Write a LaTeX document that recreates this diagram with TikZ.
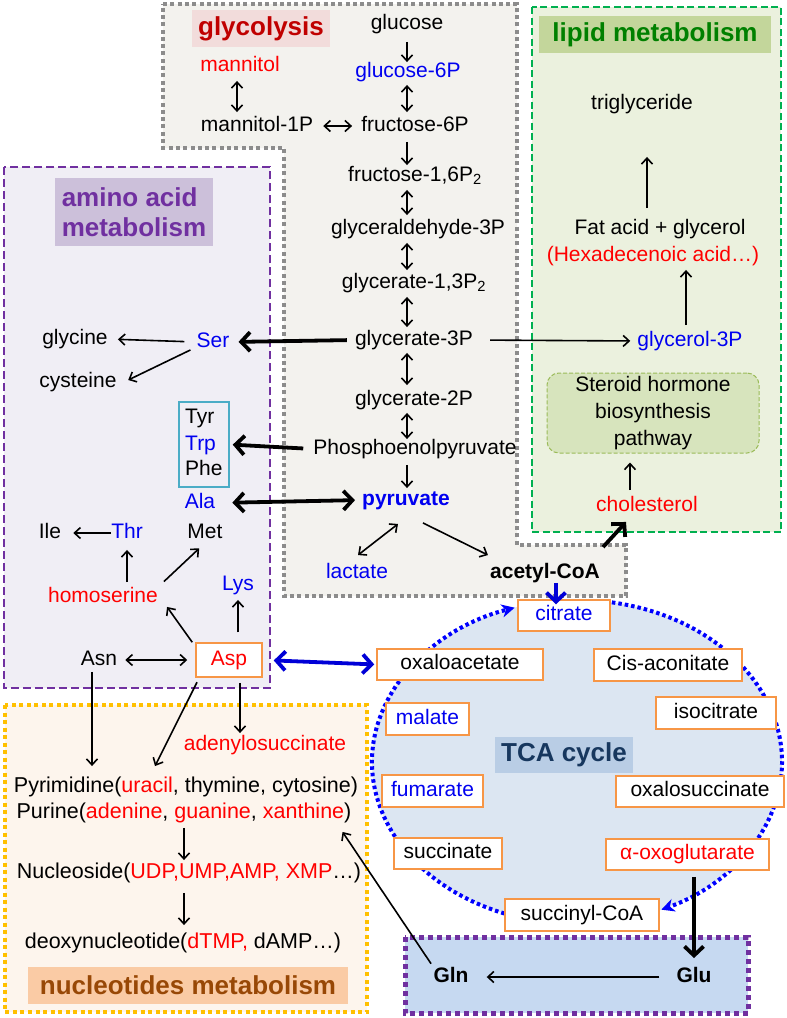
\documentclass[tikz,border=0pt]{standalone}
\usepackage{fontspec}
\setmainfont{Liberation Sans}
\usetikzlibrary{arrows.meta}
\definecolor{cblue}{RGB}{0,0,240}
\definecolor{tblue}{RGB}{0,0,215}
\definecolor{cred}{RGB}{255,0,0}
\definecolor{graybd}{RGB}{140,140,140}
\definecolor{grayfill}{RGB}{243,242,238}
\definecolor{greenbd}{RGB}{0,176,80}
\definecolor{greenfill}{RGB}{235,241,222}
\definecolor{purplebd}{RGB}{112,48,160}
\definecolor{purplefill}{RGB}{240,238,245}
\definecolor{aminolab}{RGB}{204,192,218}
\definecolor{nucbd}{RGB}{255,192,0}
\definecolor{nucfill}{RGB}{253,245,237}
\definecolor{nuclab}{RGB}{250,203,165}
\definecolor{nuctext}{RGB}{152,72,6}
\definecolor{tcafill}{RGB}{220,230,242}
\definecolor{tcalab}{RGB}{185,205,229}
\definecolor{tcatext}{RGB}{23,55,94}
\definecolor{glufill}{RGB}{198,217,241}
\definecolor{sterfill}{RGB}{215,228,189}
\definecolor{sterbd}{RGB}{155,187,89}
\definecolor{liplab}{RGB}{195,214,155}
\definecolor{liptext}{RGB}{0,128,0}
\definecolor{glylab}{RGB}{242,220,219}
\definecolor{glytext}{RGB}{192,0,0}
\definecolor{arobd}{RGB}{75,172,198}
\definecolor{obd}{RGB}{247,150,70}
\newcommand{\myfs}{\fontsize{21}{25}\selectfont}
\newcommand{\mynfs}{\fontsize{21.5}{25}\selectfont}
\newcommand{\mytitle}{\fontsize{26}{30}\selectfont\bfseries}
\tikzset{
  txt/.style={inner sep=0pt, text height=15pt, text depth=4.5pt, font=\myfs},
  txtb/.style={txt, text=cblue},
  txtr/.style={txt, text=cred},
  txtbb/.style={txt, text=cblue, font=\myfs\bfseries},
  txtkb/.style={txt, font=\myfs\bfseries},
  txtn/.style={txt, font=\mynfs},
  obox/.style={draw=obd, line width=1.5pt, fill=white, inner sep=0pt, text height=15pt, text depth=4.5pt, font=\myfs},
  lab/.style={inner sep=0pt, font=\mytitle},
  arr/.style={line width=1.6pt, -{Straight Barb[length=6pt,width=11pt]}},
  darr/.style={line width=1.6pt, {Straight Barb[length=6pt,width=11pt]}-{Straight Barb[length=6pt,width=11pt]}},
  tarr/.style={line width=3.8pt, -{Straight Barb[length=9pt,width=19pt]}},
  tdarr/.style={line width=3.8pt, {Straight Barb[length=9pt,width=19pt]}-{Straight Barb[length=9pt,width=19pt]}},
  tcaline/.style={draw=blue, line width=4pt, dash pattern=on 3.5pt off 3pt, -{Stealth[length=13pt,width=13pt,inset=4pt]}},
}
\begin{document}
\begin{tikzpicture}[x=1pt,y=1pt]
\useasboundingbox (0,0) rectangle (787,-1018);
% ---------- backgrounds ----------
\filldraw[fill=grayfill, draw=graybd, line width=4pt, dash pattern=on 4pt off 3.3pt]
  (163,-4) -- (517,-4) -- (517,-545) -- (626,-545) -- (626,-596) -- (284,-596) -- (284,-148) -- (163,-148) -- cycle;
\filldraw[fill=greenfill, draw=greenbd, line width=2.5pt, dash pattern=on 7pt off 3.5pt] (532,-7) rectangle (781,-532);
\filldraw[fill=purplefill, draw=purplebd, line width=2.5pt, dash pattern=on 8pt off 4pt] (4,-167) rectangle (270,-688);
\filldraw[fill=nucfill, draw=nucbd, line width=3.5pt, dash pattern=on 4pt off 3.5pt] (5,-705) rectangle (367,-1012);
\coordinate (tcac) at (577,-762);
\fill[tcafill] (tcac) ellipse [x radius=205, y radius=162];
\filldraw[fill=glufill, draw=purplebd, line width=5pt, dash pattern=on 5pt off 4pt] (405,-937) rectangle (748,-1013);
% ---------- labels ----------
\node[lab, fill=glylab, minimum width=138pt, minimum height=37pt, text=glytext] (lglyc) at (261,-28.5) {glycolysis};
\node[lab, fill=liplab, minimum width=232pt, minimum height=37pt, text=liptext] (llip) at (655,-34.5) {lipid metabolism};
\node[lab, fill=aminolab, minimum width=158pt, minimum height=68pt, align=left, text=purplebd] (lamino) at (134,-212) {amino acid\\metabolism};
\node[lab, fill=tcalab, minimum width=138pt, minimum height=36pt, text=tcatext] (ltca) at (564,-755) {TCA cycle};
\node[lab, fill=nuclab, minimum width=320pt, minimum height=37pt, text=nuctext] (lnuc) at (188,-985.5) {nucleotides metabolism};
% ---------- TCA circle ----------
\draw[tcaline] ([shift={(249.3:205 and 162)}]tcac) arc[start angle=249.3, end angle=107.7, x radius=205, y radius=162];
\draw[tcaline] ([shift={(80.2:205 and 162)}]tcac) arc[start angle=80.2, end angle=-65.7, x radius=205, y radius=162];
% ---------- glycolysis ----------
\coordinate (col) at (407,0);
\coordinate (mcol) at (237,0);
\node[txt] (glucose) at (407,-24) {glucose};
\node[txtb] (gsixp) at (408,-72) {glucose-6P};
\node[txtr] (mannitol) at (240,-66) {mannitol};
\node[txt] (mannp) at (257,-126) {mannitol-1P};
\node[txt] (fsixp) at (415,-126) {fructose-6P};
\node[txt] (fbp) at (415,-176) {fructose-1,6P\textsubscript{2}};
\node[txt] (gald) at (418,-229) {glyceraldehyde-3P};
\node[txt] (gbp) at (414,-283) {glycerate-1,3P\textsubscript{2}};
\node[txt] (gthree) at (414,-340) {glycerate-3P};
\node[txt] (gtwo) at (414,-400) {glycerate-2P};
\node[txt] (pep) at (415,-449) {Phosphoenolpyruvate};
\node[txtbb] (pyr) at (406,-500) {pyruvate};
\node[txtb] (lac) at (357,-573) {lactate};
\node[txtkb] (acoa) at (545,-573) {acetyl-CoA};
% ---------- amino acids ----------
\node[txtb] (ser) at (213,-342) {Ser};
\node[txt] (gly) at (75,-339) {glycine};
\node[txt] (cys) at (78,-382) {cysteine};
\node[draw=arobd, line width=1.5pt, minimum width=50pt, minimum height=85pt, inner sep=0pt] (aro) at (204,-444.5) {};
\node[txt, anchor=west] (tyr) at (185,-418) {Tyr};
\node[txtb, anchor=west] (trp) at (185,-445) {Trp};
\node[txt, anchor=west] (phe) at (185,-470) {Phe};
\node[txtb] (ala) at (200,-503) {Ala};
\node[txt] (ile) at (50,-533) {Ile};
\node[txtb] (thr) at (127,-533) {Thr};
\node[txt] (met) at (205,-533) {Met};
\node[txtr] (hser) at (103,-597) {homoserine};
\node[txtb] (lys) at (238,-585) {Lys};
\node[txt] (asn) at (99,-660) {Asn};
\node[obox, minimum width=66pt, minimum height=34pt, text=cred] (asp) at (229,-660) {Asp};
\node[txtr] (aden) at (265,-745) {adenylosuccinate};
% ---------- nucleotides ----------
\node[txtn] (pyrim) at (186,-787) {Pyrimidine(\textcolor{cred}{uracil}, thymine, cytosine)};
\node[txtn] (purine) at (184,-813) {Purine(\textcolor{cred}{adenine}, \textcolor{cred}{guanine}, \textcolor{cred}{xanthine})};
\node[txtn] (nucl) at (189,-873) {Nucleoside(\textcolor{cred}{UDP,UMP,AMP, XMP}…)};
\node[txtn] (deoxy) at (183,-943) {deoxynucleotide(\textcolor{cred}{dTMP,} dAMP…)};
% ---------- TCA boxes ----------
\node[obox, minimum width=92pt, minimum height=31pt, text=cblue] (cit) at (564,-615.5) {citrate};
\node[obox, minimum width=166pt, minimum height=31pt] (oaa) at (460,-664.5) {oxaloacetate};
\node[obox, minimum width=148pt, minimum height=32pt] (cis) at (668,-665) {Cis-aconitate};
\node[obox, minimum width=120pt, minimum height=32pt] (iso) at (716,-713) {isocitrate};
\node[obox, minimum width=83pt, minimum height=32pt, text=cblue] (mal) at (427.5,-719) {malate};
\node[obox, minimum width=101pt, minimum height=32pt, text=cblue] (fum) at (432.5,-791) {fumarate};
\node[obox, minimum width=168pt, minimum height=31pt] (oxs) at (700,-791.5) {oxalosuccinate};
\node[obox, minimum width=108pt, minimum height=31pt] (suc) at (448,-853.5) {succinate};
\node[obox, minimum width=163pt, minimum height=31pt, text=cred] (aog) at (687.5,-854.5) {α-oxoglutarate};
\node[obox, minimum width=154pt, minimum height=32pt] (sca) at (582,-915) {succinyl-CoA};
\node[txtkb] (gln) at (451,-977) {Gln};
\node[txtkb] (glu) at (694,-977) {Glu};
% ---------- lipids ----------
\node[txtb] (glycp) at (690,-341) {glycerol-3P};
\node[draw=sterbd, line width=1pt, dash pattern=on 4pt off 2pt, fill=sterfill, rounded corners=12pt, minimum width=212pt, minimum height=80pt, align=center, font=\fontsize{21}{27}\selectfont, inner sep=0pt] (ster) at (653,-413) {Steroid hormone\\biosynthesis\\pathway};
\node[txtr] (chol) at (647,-506) {cholesterol};
\node[txt] (fat) at (660,-229) {Fat acid + glycerol};
\node[txtr] (hexa) at (653,-256) {(Hexadecenoic acid…)};
\node[txt] (trig) at (642,-104) {triglyceride};
% ---------- glycolysis arrows ----------
\draw[arr, shorten <=8pt, shorten >=0pt] (glucose.south -| col) -- (gsixp.north -| col);
\draw[darr, shorten <=3pt, shorten >=4pt] (gsixp.south -| col) -- (fsixp.north -| col);
\draw[darr, shorten <=5pt, shorten >=4pt] (mannitol.south -| mcol) -- (mannp.north -| mcol);
\draw[darr, shorten <=10pt, shorten >=9pt] (mannp.east) -- (fsixp.west);
\draw[arr, shorten <=6pt, shorten >=1pt] (fsixp.south -| col) -- (fbp.north -| col);
\draw[darr, shorten <=4pt, shorten >=4pt] (fbp.south -| col) -- (gald.north -| col);
\draw[darr, shorten <=4pt, shorten >=3pt] (gald.south -| col) -- (gbp.north -| col);
\draw[darr, shorten <=4pt, shorten >=3pt] (gbp.south -| col) -- (gthree.north -| col);
\draw[darr, shorten <=3pt, shorten >=5pt] (gthree.south -| col) -- (gtwo.north -| col);
\draw[darr, shorten <=3pt, shorten >=0pt] (gtwo.south -| col) -- (pep.north -| col);
\draw[arr, shorten <=6pt, shorten >=2pt] (pep.south -| col) -- (pyr.north -| col);
\draw[darr] ([shift={(-8,-14)}]pyr.south) -- ([shift={(1,8)}]lac.north);
\draw[arr] ([shift={(17,-13)}]pyr.south) -- ([shift={(-2,8)}]acoa.north west);
% ---------- amino acid arrows ----------
\draw[tarr, shorten <=8pt, shorten >=9pt] (gthree.west) -- (ser.east);
\draw[arr, shorten <=12pt, shorten >=10pt] (ser.west) -- (gly.east);
\draw[arr] ([shift={(-6,2)}]ser.south west) -- ([shift={(11.5,2)}]cys.east);
\draw[tarr, shorten <=10pt, shorten >=3pt] (pep.west) -- (aro.east);
\draw[tdarr, shorten <=17pt, shorten >=7pt] (ala.east) -- (pyr.west);
\draw[arr, shorten >=12pt] (thr.west) -- (ile.east);
\draw[arr, shorten <=5pt, shorten >=7pt] (hser.north -| thr) -- (thr.south);
\draw[arr, shorten <=8pt, shorten >=8pt] (hser.north east) -- (met.south);
\draw[arr] ([xshift=-3pt]asp.north west) -- ([xshift=9pt]hser.south east);
\draw[arr, shorten <=10pt, shorten >=5pt] (asp.north -| lys) -- (lys.south);
\draw[darr, shorten <=8pt, shorten >=8pt] (asn.east) -- (asp.west);
\draw[tdarr, tblue, shorten <=11pt, shorten >=2pt] (asp.east) -- (oaa.west);
% ---------- nucleotide arrows ----------
\draw[arr, shorten <=2pt, shorten >=11pt] ([xshift=-7pt]asn.south) -- ([xshift=-7pt]asn.south |- pyrim.north);
\draw[arr, shorten <=5pt] ([xshift=4pt]asp.south west) -- ([shift={(-31,11)}]pyrim.north);
\draw[arr, shorten <=5pt, shorten >=2pt] ([xshift=11pt]asp.south) -- ([xshift=11pt]asp.south |- aden.north);
\draw[arr, shorten <=5pt, shorten >=3pt] (purine.south) -- (purine.south |- nucl.north);
\draw[arr, shorten <=10pt, shorten >=8pt] (nucl.south -| purine) -- (deoxy.north -| purine);
\draw[arr, shorten <=4pt] (gln.north west) -- ([shift={(-9,-9)}]purine.south east);
\draw[arr, shorten <=17pt, shorten >=18pt] (glu.west) -- (gln.east);
\draw[tarr, shorten <=6pt, shorten >=9pt] (aog.south -| glu) -- (glu.north);
% ---------- acetyl-CoA / lipid arrows ----------
\draw[tarr, tblue, shorten >=-5pt] ([xshift=11pt]acoa.south) -- ([xshift=11pt]acoa.south |- cit.north);
\draw[tarr] ([shift={(3,16)}]acoa.north east) -- ([shift={(-21,-6)}]chol.south);
\draw[arr, shorten <=6pt, shorten >=9pt] ([xshift=-17pt]chol.north) -- ([xshift=-17pt]chol.north |- ster.south);
\draw[arr, shorten <=17pt, shorten >=7pt] (gthree.east) -- (glycp.west);
\draw[arr, shorten <=6pt, shorten >=4pt] ([xshift=-4pt]glycp.north) -- ([xshift=-4pt]glycp.north |- hexa.south);
\draw[arr, shorten <=11pt, shorten >=43pt] ([xshift=-13pt]fat.north) -- ([xshift=-13pt]fat.north |- trig.south);
\end{tikzpicture}
\end{document}
